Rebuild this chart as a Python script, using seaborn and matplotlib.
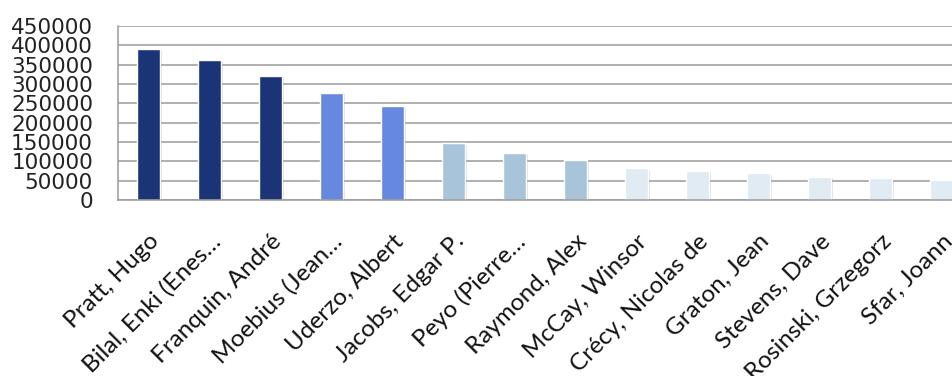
import pandas as pd
import seaborn as sns
import matplotlib.pyplot as plt
import matplotlib.patheffects as pe
from matplotlib.ticker import MultipleLocator

# Data
authors = ["Pratt, Hugo", "Bilal, Enki (Enes…", "Franquin, André", "Moebius (Jean…",
           "Uderzo, Albert", "Jacobs, Edgar P.", "Peyo (Pierre…", "Raymond, Alex",
           "McCay, Winsor", "Crécy, Nicolas de", "Graton, Jean", "Stevens, Dave",
           "Rosinski, Grzegorz", "Sfar, Joann"]
values = [391000, 361000, 321000, 278000, 242000, 147000, 122000, 103000,
          82000, 76000, 69000, 59500, 56000, 52500]
groups = [0, 0, 0, 1, 1, 2, 2, 2, 3, 3, 3, 3, 3, 3]
group_colors = ["#1b3478", "#6688df", "#a7c4da", "#e0ebf3"]

df = pd.DataFrame({"author": authors, "value": values})
palette = {a: group_colors[g] for a, g in zip(authors, groups)}

sns.set_style("white")
fig = plt.figure(figsize=(9.52, 3.76), dpi=100)
ax = fig.add_axes([118 / 952, 176 / 376, 854 / 952, 174 / 376])

sns.barplot(data=df, x="author", y="value", hue="author", palette=palette,
            legend=False, width=0.39, ax=ax, saturation=1)

# soft shadow like the original spreadsheet chart
for bar in ax.patches:
    bar.set_path_effects([pe.SimplePatchShadow(offset=(1.5, -1), alpha=0.18,
                                               shadow_rgbFace="#555555"),
                          pe.Normal()])

ax.set_xlim(-0.5, len(authors) - 0.5)
ax.set_ylim(0, 450000)
ax.yaxis.set_major_locator(MultipleLocator(50000))
ax.grid(axis="y", color="#9a9a9a", linewidth=1.1)
ax.set_axisbelow(True)
ax.set_xlabel("")
ax.set_ylabel("")

for side in ["top", "right"]:
    ax.spines[side].set_visible(False)
for side in ["left", "bottom"]:
    ax.spines[side].set_color("#9a9a9a")
    ax.spines[side].set_linewidth(1.1)

# y tick labels
ax.tick_params(axis="y", length=5, width=1.1, color="#9a9a9a", pad=13,
               labelsize=15.5, labelcolor="#222222")
for t in ax.get_yticklabels():
    t.set_family("DejaVu Sans")

# category labels, ticks between categories
ax.set_xticks(range(len(authors)))
ax.set_xticklabels(authors, rotation=45, ha="right", rotation_mode="anchor",
                   fontsize=17.5, family=["Lato", "DejaVu Sans"], color="#111111")
ax.tick_params(axis="x", which="major", length=0, pad=22)
ax.set_xticks([i - 0.5 for i in range(len(authors) + 1)], minor=True)
ax.tick_params(axis="x", which="minor", length=6, width=1.1, color="#9a9a9a")

fig.savefig("out.png", dpi=100)
